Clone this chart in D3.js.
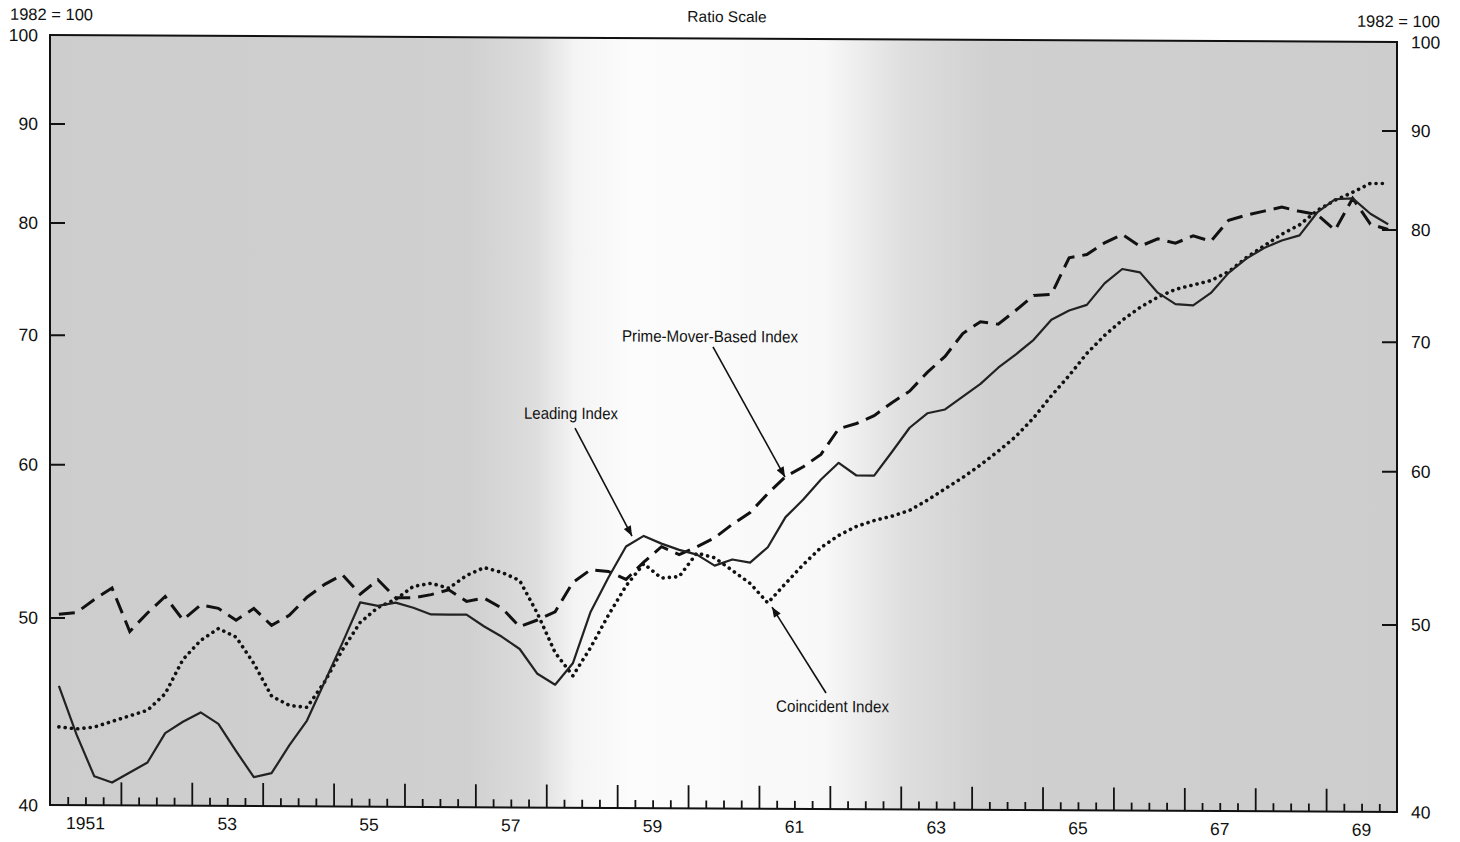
<!DOCTYPE html>
<html><head><meta charset="utf-8">
<script src="https://cdn.jsdelivr.net/npm/d3@7"></script>
<style>
body{margin:0;background:#fff}
svg{display:block}
text{font-family:"Liberation Sans",Arial,Helvetica,sans-serif;fill:#111}
</style>
</head><body>
<svg id="c" width="1460" height="842"></svg>
<script>
// ---- data (quarterly, 1951Q1 .. 1969Q4), 1982 = 100 ----
const startYear = 1951, endYear = 1970;
const quarterLabels = d3.range(startYear, endYear).flatMap(y => ["Q1","Q2","Q3","Q4"].map(q => y + q));
const leadingIndex = [46.1,43.5,41.4,41.1,41.6,42.1,43.6,44.2,44.7,44.1,42.7,41.4,41.6,43.0,44.3,46.4,48.6,51.0,50.8,51.0,
  50.7,50.3,50.3,50.3,49.6,49.0,48.3,46.9,46.3,47.5,50.5,52.6,54.6,55.3,54.8,54.4,54.1,53.4,
  53.8,53.6,54.6,56.6,57.8,59.2,60.4,59.5,59.5,61.2,63.0,64.1,64.4,65.4,66.4,67.7,68.8,70.0,
  71.7,72.5,73.0,74.9,76.2,75.9,74.1,73.1,73.0,74.1,75.9,77.2,78.2,78.9,79.4,81.6,82.9,83.0,81.5,80.5];
const primeMoverIndex = [50.2,50.3,51.1,51.8,49.2,50.3,51.3,49.9,50.8,50.6,49.9,50.6,49.6,50.2,51.3,52.1,52.7,51.5,52.4,51.3,
  51.3,51.5,51.8,51.1,51.3,50.7,49.6,50.0,50.5,52.3,53.1,53.0,52.5,53.6,54.6,54.1,54.6,55.2,
  56.1,56.9,58.2,59.4,60.1,61.0,62.9,63.3,63.9,64.9,65.8,67.3,68.6,70.5,71.5,71.3,72.5,73.8,
  73.9,77.2,77.5,78.6,79.4,78.3,79.0,78.6,79.3,78.8,80.8,81.3,81.7,82.1,81.7,81.4,79.9,83.0,80.5,80.0];
const coincidentIndex = [43.9,43.8,43.9,44.2,44.5,44.8,45.7,47.6,48.7,49.4,48.9,47.4,45.6,45.1,45.0,46.4,48.2,49.8,50.7,51.2,
  52.0,52.2,51.9,52.7,53.2,52.9,52.4,50.4,48.1,46.8,48.4,50.3,52.1,53.5,52.6,52.7,54.2,53.9,
  53.1,52.3,51.1,52.3,53.5,54.6,55.4,56.0,56.4,56.7,57.1,57.8,58.6,59.4,60.3,61.3,62.4,63.8,
  65.5,67.1,68.9,70.4,71.7,72.8,73.7,74.4,74.8,75.2,76.0,77.3,78.4,79.5,80.4,81.8,82.8,83.6,84.5,84.5];
const yTickValues = [40,50,60,70,80,90,100];
const yearLabelValues = [1951,1953,1955,1957,1959,1961,1963,1965,1967,1969];
const yearLabelTexts = ["1951","53","55","57","59","61","63","65","67","69"];

// ---- layout ----
const L = 50, R = 1397, T = 35, B = 805;
const svg = d3.select("#c");
const g = svg.append("g").attr("transform", "matrix(1,0.0052,0,1,0,-0.26)");

const qIndex = d3.scaleLinear().domain([0, 4]).range([0, 1]); // quarter index -> years
const x = d3.scaleLinear().domain([startYear, endYear]).range([L, R]);
const y = d3.scaleLog().domain([40, 100]).range([B, T]);
const xq = i => x(startYear + qIndex(i + 0.5));

// background shading
const defs = svg.append("defs");
const grad = defs.append("linearGradient").attr("id", "bg").attr("gradientUnits", "userSpaceOnUse")
  .attr("x1", L).attr("x2", R).attr("y1", 0).attr("y2", 0);
[[0,"#cdcdcd"],[0.31,"#d0d0d0"],[0.36,"#dddddd"],[0.39,"#f4f4f4"],[0.43,"#fcfcfc"],[0.575,"#f8f8f8"],
 [0.635,"#dedede"],[0.70,"#d0d0d0"],[1,"#cdcdcd"]].forEach(([o,c]) =>
  grad.append("stop").attr("offset", o).attr("stop-color", c));
defs.append("marker").attr("id", "ah").attr("viewBox", "0 0 10 8").attr("refX", 10).attr("refY", 4)
  .attr("markerUnits", "userSpaceOnUse").attr("markerWidth", 11).attr("markerHeight", 8).attr("orient", "auto")
  .append("path").attr("d", "M0,0L10,4L0,8z").attr("fill", "#111");

g.append("rect").attr("x", L).attr("y", T).attr("width", R - L).attr("height", B - T).attr("fill", "url(#bg)");

// series lines
const line = d3.line().x((d, i) => xq(i)).y(d => y(d));
g.append("path").datum(coincidentIndex).attr("d", line).attr("fill", "none").attr("stroke", "#111")
  .attr("stroke-width", 3.6).attr("stroke-linecap", "round").attr("stroke-dasharray", "0.1 6.2");
g.append("path").datum(primeMoverIndex).attr("d", line).attr("fill", "none").attr("stroke", "#111")
  .attr("stroke-width", 3).attr("stroke-dasharray", "16 8");
g.append("path").datum(leadingIndex).attr("d", line).attr("fill", "none").attr("stroke", "#222")
  .attr("stroke-width", 2.2).attr("stroke-linejoin", "round");

// frame
g.append("rect").attr("x", L).attr("y", T).attr("width", R - L).attr("height", B - T)
  .attr("fill", "none").attr("stroke", "#111").attr("stroke-width", 2);

// y axes (ticks inward)
const inner = yTickValues.filter(v => v > 40 && v < 100);
const yl = g.append("g").attr("transform", `translate(${L},0)`)
  .call(d3.axisRight(y).tickValues(inner).tickSize(15).tickFormat(""));
const yr = g.append("g").attr("transform", `translate(${R},0)`)
  .call(d3.axisLeft(y).tickValues(inner).tickSize(15).tickFormat(""));
[yl, yr].forEach(a => { a.select(".domain").remove(); a.selectAll("line").attr("stroke", "#111").attr("stroke-width", 2); });

g.selectAll(".ylabL").data(yTickValues).join("text").attr("x", 38).attr("y", d => y(d))
  .attr("dy", "0.36em").attr("text-anchor", "end").attr("font-size", 17.5).text(d => d);
g.selectAll(".ylabR").data(yTickValues).join("text").attr("x", 1411).attr("y", d => y(d))
  .attr("dy", "0.36em").attr("text-anchor", "start").attr("font-size", 17.5).text(d => d);

// x axis: quarterly ticks, tall at year boundaries
const qTicks = d3.range(1, 76).map(i => startYear + qIndex(i));
const xa = g.append("g").attr("transform", `translate(0,${B})`)
  .call(d3.axisTop(x).tickValues(qTicks).tickSize(8).tickFormat(""));
xa.select(".domain").remove();
xa.selectAll(".tick line").attr("stroke", "#111").attr("stroke-width", 1.8)
  .attr("y2", d => Math.abs(d - Math.round(d)) < 1e-6 ? -23 : -8);

g.selectAll(".xlab").data(yearLabelValues).join("text")
  .attr("x", d => x(d + 0.5)).attr("y", 829).attr("text-anchor", "middle").attr("font-size", 17.5)
  .text((d, i) => yearLabelTexts[i]);

// titles
g.append("text").attr("x", 10).attr("y", 20).attr("font-size", 16.5).text("1982 = 100");
g.append("text").attr("x", 1440).attr("y", 20).attr("text-anchor", "end").attr("font-size", 16.5).text("1982 = 100");
g.append("text").attr("x", 727).attr("y", 18.5).attr("text-anchor", "middle").attr("font-size", 15.5).text("Ratio Scale");

// annotations
function note(txt, x0, yb, w, ax1, ay1, ax2, ay2) {
  g.append("text").attr("x", x0).attr("y", yb).attr("font-size", 16.5)
    .attr("textLength", w).attr("lengthAdjust", "spacingAndGlyphs").text(txt);
  g.append("line").attr("x1", ax1).attr("y1", ay1).attr("x2", ax2).attr("y2", ay2)
    .attr("stroke", "#111").attr("stroke-width", 1.6).attr("marker-end", "url(#ah)");
}
note("Prime-Mover-Based Index", 622, 338.6, 176, 713, 343.5, 785, 473.2);
note("Leading Index", 524, 416.3, 94, 575, 425.3, 632, 533);
note("Coincident Index", 776, 708, 113, 826, 689, 772, 603.3);
</script>
</body></html>
